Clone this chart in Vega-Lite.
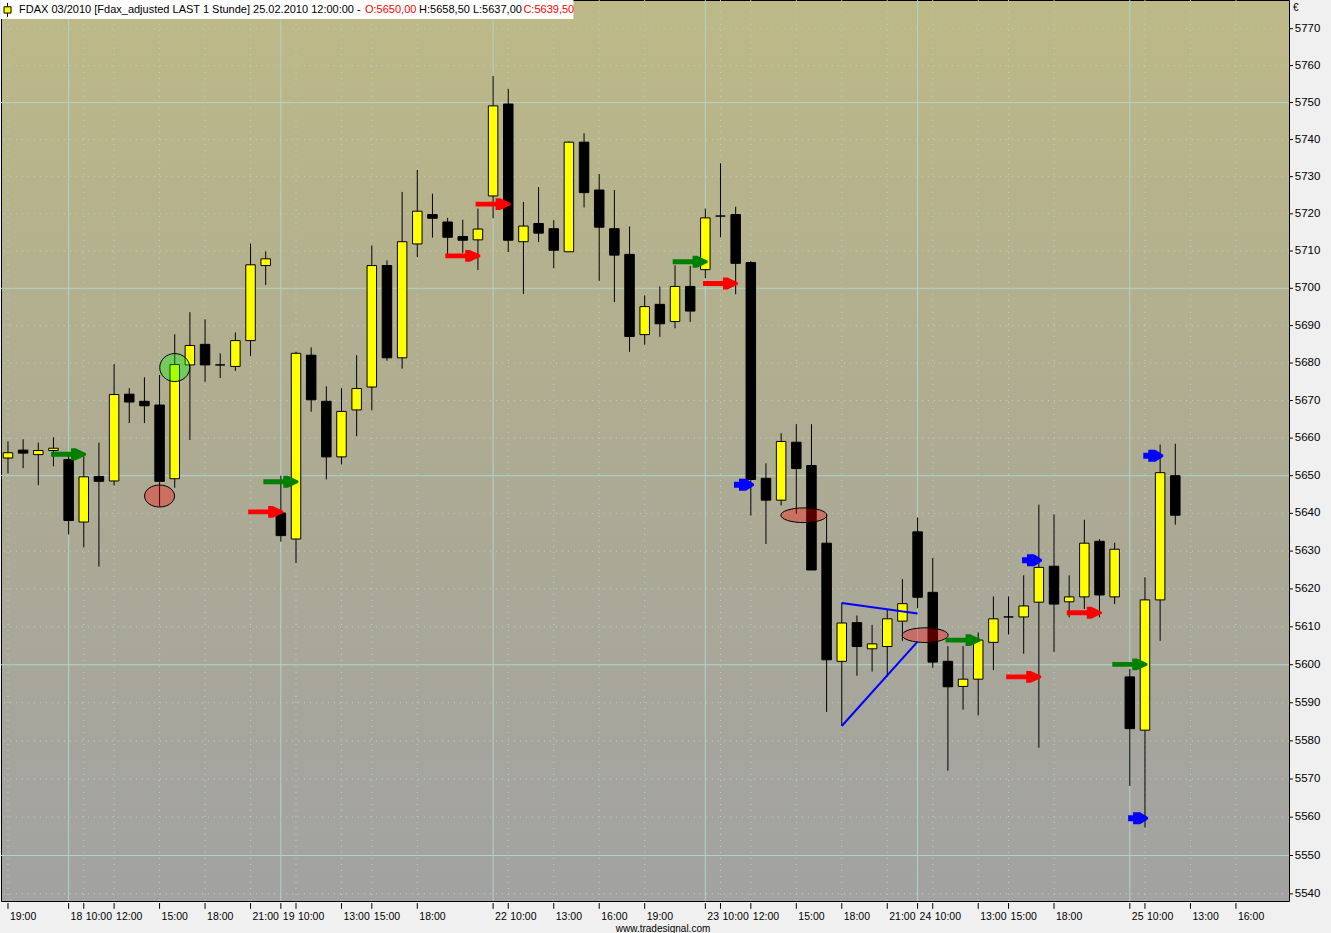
{
  "$schema": "https://vega.github.io/schema/vega-lite/v6.json",
  "width": 1288,
  "height": 901,
  "autosize": {"type": "none"},
  "padding": {"left": 1, "top": 0, "right": 42, "bottom": 32},
  "background": "#F0F0F0",
  "view": {
    "fill": {"gradient": "linear", "x1": 0, "y1": 0, "x2": 0, "y2": 1,
      "stops": [{"offset": 0, "color": "#BDB987"}, {"offset": 0.5, "color": "#AEAB93"}, {"offset": 1, "color": "#A2A2A2"}]},
    "stroke": "#000000",
    "strokeWidth": 1
  },
  "config": {"font": "Liberation Sans"},
  "datasets": {
    "candles": [
      {"i": 0, "t": "2010-02-17 19:00", "o": 5654.7, "h": 5659.1, "l": 5650.6, "c": 5656.1},
      {"i": 1, "t": "2010-02-17 20:00", "o": 5656.8, "h": 5659.7, "l": 5652.0, "c": 5656.0},
      {"i": 2, "t": "2010-02-17 21:00", "o": 5655.6, "h": 5658.8, "l": 5647.5, "c": 5656.7},
      {"i": 3, "t": "2010-02-17 22:00", "o": 5656.7, "h": 5660.2, "l": 5652.5, "c": 5657.3},
      {"i": 4, "t": "2010-02-18 09:00", "o": 5654.3, "h": 5655.5, "l": 5634.4, "c": 5638.1},
      {"i": 5, "t": "2010-02-18 10:00", "o": 5637.7, "h": 5655.2, "l": 5631.0, "c": 5649.7},
      {"i": 6, "t": "2010-02-18 11:00", "o": 5649.8, "h": 5658.8, "l": 5625.9, "c": 5648.5},
      {"i": 7, "t": "2010-02-18 12:00", "o": 5648.6, "h": 5679.7, "l": 5647.4, "c": 5671.6},
      {"i": 8, "t": "2010-02-18 13:00", "o": 5671.7, "h": 5673.3, "l": 5664.0, "c": 5669.6},
      {"i": 9, "t": "2010-02-18 14:00", "o": 5669.8, "h": 5676.2, "l": 5664.0, "c": 5668.6},
      {"i": 10, "t": "2010-02-18 15:00", "o": 5668.8, "h": 5676.8, "l": 5641.9, "c": 5648.5},
      {"i": 11, "t": "2010-02-18 16:00", "o": 5649.2, "h": 5687.7, "l": 5646.8, "c": 5679.6},
      {"i": 12, "t": "2010-02-18 17:00", "o": 5679.5, "h": 5693.6, "l": 5659.5, "c": 5684.7},
      {"i": 13, "t": "2010-02-18 18:00", "o": 5685.0, "h": 5691.7, "l": 5675.0, "c": 5679.5},
      {"i": 14, "t": "2010-02-18 19:00", "o": 5679.5, "h": 5682.6, "l": 5676.0, "c": 5679.5},
      {"i": 15, "t": "2010-02-18 20:00", "o": 5679.1, "h": 5688.2, "l": 5677.9, "c": 5686.0},
      {"i": 16, "t": "2010-02-18 21:00", "o": 5686.0, "h": 5712.0, "l": 5681.9, "c": 5706.3},
      {"i": 17, "t": "2010-02-18 22:00", "o": 5706.1, "h": 5709.9, "l": 5700.9, "c": 5707.9},
      {"i": 18, "t": "2010-02-19 09:00", "o": 5640.1, "h": 5650.0, "l": 5632.5, "c": 5634.1},
      {"i": 19, "t": "2010-02-19 10:00", "o": 5633.2, "h": 5683.0, "l": 5626.9, "c": 5682.6},
      {"i": 20, "t": "2010-02-19 11:00", "o": 5682.1, "h": 5684.2, "l": 5667.0, "c": 5670.2},
      {"i": 21, "t": "2010-02-19 12:00", "o": 5669.8, "h": 5673.8, "l": 5649.0, "c": 5655.0},
      {"i": 22, "t": "2010-02-19 13:00", "o": 5655.0, "h": 5673.3, "l": 5653.0, "c": 5667.1},
      {"i": 23, "t": "2010-02-19 14:00", "o": 5667.5, "h": 5682.1, "l": 5660.5, "c": 5673.2},
      {"i": 24, "t": "2010-02-19 15:00", "o": 5673.6, "h": 5711.5, "l": 5667.4, "c": 5706.1},
      {"i": 25, "t": "2010-02-19 16:00", "o": 5706.1, "h": 5707.5, "l": 5680.6, "c": 5681.4},
      {"i": 26, "t": "2010-02-19 17:00", "o": 5681.4, "h": 5725.9, "l": 5678.5, "c": 5712.5},
      {"i": 27, "t": "2010-02-19 18:00", "o": 5711.9, "h": 5731.8, "l": 5708.4, "c": 5720.7},
      {"i": 28, "t": "2010-02-19 19:00", "o": 5719.8, "h": 5725.4, "l": 5713.6, "c": 5718.8},
      {"i": 29, "t": "2010-02-19 20:00", "o": 5717.8, "h": 5718.9, "l": 5708.5, "c": 5713.7},
      {"i": 30, "t": "2010-02-19 21:00", "o": 5713.9, "h": 5718.4, "l": 5709.5, "c": 5712.9},
      {"i": 31, "t": "2010-02-19 22:00", "o": 5713.0, "h": 5721.4, "l": 5704.9, "c": 5715.9},
      {"i": 32, "t": "2010-02-22 09:00", "o": 5724.8, "h": 5757.2, "l": 5718.8, "c": 5749.1},
      {"i": 33, "t": "2010-02-22 10:00", "o": 5749.6, "h": 5753.7, "l": 5709.7, "c": 5712.9},
      {"i": 34, "t": "2010-02-22 11:00", "o": 5712.5, "h": 5723.2, "l": 5698.5, "c": 5716.7},
      {"i": 35, "t": "2010-02-22 12:00", "o": 5717.4, "h": 5727.2, "l": 5712.4, "c": 5714.8},
      {"i": 36, "t": "2010-02-22 13:00", "o": 5716.0, "h": 5718.3, "l": 5705.4, "c": 5710.2},
      {"i": 37, "t": "2010-02-22 14:00", "o": 5709.8, "h": 5739.5, "l": 5709.8, "c": 5739.3},
      {"i": 38, "t": "2010-02-22 15:00", "o": 5739.3, "h": 5741.7, "l": 5721.7, "c": 5725.7},
      {"i": 39, "t": "2010-02-22 16:00", "o": 5726.4, "h": 5730.7, "l": 5702.0, "c": 5716.4},
      {"i": 40, "t": "2010-02-22 17:00", "o": 5716.0, "h": 5726.4, "l": 5696.3, "c": 5708.9},
      {"i": 41, "t": "2010-02-22 18:00", "o": 5709.1, "h": 5716.6, "l": 5683.0, "c": 5687.1},
      {"i": 42, "t": "2010-02-22 19:00", "o": 5687.6, "h": 5698.1, "l": 5684.9, "c": 5695.1},
      {"i": 43, "t": "2010-02-22 20:00", "o": 5695.7, "h": 5700.5, "l": 5687.0, "c": 5690.5},
      {"i": 44, "t": "2010-02-22 21:00", "o": 5691.1, "h": 5706.2, "l": 5689.3, "c": 5700.5},
      {"i": 45, "t": "2010-02-22 22:00", "o": 5700.5, "h": 5706.0, "l": 5691.0, "c": 5693.9},
      {"i": 46, "t": "2010-02-23 09:00", "o": 5705.0, "h": 5721.4, "l": 5702.7, "c": 5718.9},
      {"i": 47, "t": "2010-02-23 10:00", "o": 5719.4, "h": 5733.6, "l": 5713.7, "c": 5719.4},
      {"i": 48, "t": "2010-02-23 11:00", "o": 5719.8, "h": 5721.9, "l": 5698.4, "c": 5706.7},
      {"i": 49, "t": "2010-02-23 12:00", "o": 5706.9, "h": 5707.3, "l": 5639.4, "c": 5649.0},
      {"i": 50, "t": "2010-02-23 13:00", "o": 5649.3, "h": 5653.3, "l": 5631.9, "c": 5643.5},
      {"i": 51, "t": "2010-02-23 14:00", "o": 5643.5, "h": 5661.3, "l": 5642.1, "c": 5659.1},
      {"i": 52, "t": "2010-02-23 15:00", "o": 5658.9, "h": 5663.7, "l": 5639.9, "c": 5651.9},
      {"i": 53, "t": "2010-02-23 16:00", "o": 5652.7, "h": 5663.7, "l": 5625.0, "c": 5625.0},
      {"i": 54, "t": "2010-02-23 17:00", "o": 5632.1, "h": 5639.7, "l": 5587.6, "c": 5601.3},
      {"i": 55, "t": "2010-02-23 18:00", "o": 5600.9, "h": 5616.3, "l": 5583.9, "c": 5611.0},
      {"i": 56, "t": "2010-02-23 19:00", "o": 5611.1, "h": 5613.0, "l": 5597.1, "c": 5604.8},
      {"i": 57, "t": "2010-02-23 20:00", "o": 5604.2, "h": 5610.5, "l": 5598.2, "c": 5605.5},
      {"i": 58, "t": "2010-02-23 21:00", "o": 5604.8, "h": 5614.5, "l": 5596.9, "c": 5612.1},
      {"i": 59, "t": "2010-02-23 22:00", "o": 5611.5, "h": 5622.6, "l": 5606.3, "c": 5616.1},
      {"i": 60, "t": "2010-02-24 09:00", "o": 5635.1, "h": 5638.9, "l": 5614.9, "c": 5617.8},
      {"i": 61, "t": "2010-02-24 10:00", "o": 5619.1, "h": 5628.2, "l": 5599.2, "c": 5600.7},
      {"i": 62, "t": "2010-02-24 11:00", "o": 5600.9, "h": 5604.9, "l": 5572.2, "c": 5594.2},
      {"i": 63, "t": "2010-02-24 12:00", "o": 5594.3, "h": 5604.9, "l": 5588.2, "c": 5596.2},
      {"i": 64, "t": "2010-02-24 13:00", "o": 5596.2, "h": 5608.5, "l": 5586.7, "c": 5606.5},
      {"i": 65, "t": "2010-02-24 14:00", "o": 5605.9, "h": 5618.0, "l": 5598.6, "c": 5612.1},
      {"i": 66, "t": "2010-02-24 15:00", "o": 5612.6, "h": 5618.0, "l": 5608.0, "c": 5612.6},
      {"i": 67, "t": "2010-02-24 16:00", "o": 5612.6, "h": 5623.6, "l": 5602.9, "c": 5615.5},
      {"i": 68, "t": "2010-02-24 17:00", "o": 5616.5, "h": 5642.3, "l": 5578.2, "c": 5625.7},
      {"i": 69, "t": "2010-02-24 18:00", "o": 5626.0, "h": 5639.7, "l": 5603.4, "c": 5616.0},
      {"i": 70, "t": "2010-02-24 19:00", "o": 5616.6, "h": 5623.6, "l": 5612.5, "c": 5617.9},
      {"i": 71, "t": "2010-02-24 20:00", "o": 5617.9, "h": 5638.3, "l": 5614.7, "c": 5632.1},
      {"i": 72, "t": "2010-02-24 21:00", "o": 5632.6, "h": 5633.2, "l": 5612.5, "c": 5618.4},
      {"i": 73, "t": "2010-02-24 22:00", "o": 5617.9, "h": 5632.2, "l": 5616.0, "c": 5630.5},
      {"i": 74, "t": "2010-02-25 09:00", "o": 5596.8, "h": 5598.9, "l": 5568.2, "c": 5583.2},
      {"i": 75, "t": "2010-02-25 10:00", "o": 5582.8, "h": 5623.1, "l": 5557.3, "c": 5617.1},
      {"i": 76, "t": "2010-02-25 11:00", "o": 5617.1, "h": 5658.3, "l": 5606.3, "c": 5650.8},
      {"i": 77, "t": "2010-02-25 12:00", "o": 5650.0, "h": 5658.5, "l": 5637.0, "c": 5639.5}
    ],
    "levels": [
      {"p": 5540}, {"p": 5550}, {"p": 5560}, {"p": 5570}, {"p": 5580}, {"p": 5590},
      {"p": 5600}, {"p": 5610}, {"p": 5620}, {"p": 5630}, {"p": 5640}, {"p": 5650},
      {"p": 5660}, {"p": 5670}, {"p": 5680}, {"p": 5690}, {"p": 5700}, {"p": 5710},
      {"p": 5720}, {"p": 5730}, {"p": 5740}, {"p": 5750}, {"p": 5760}, {"p": 5770}
    ],
    "ticks": [
      {"i": 0, "label": "19:00"}, {"i": 4, "label": "18"}, {"i": 5, "label": "10:00"}, {"i": 7, "label": "12:00"},
      {"i": 10, "label": "15:00"}, {"i": 13, "label": "18:00"}, {"i": 16, "label": "21:00"}, {"i": 18, "label": "19"},
      {"i": 19, "label": "10:00"}, {"i": 22, "label": "13:00"}, {"i": 24, "label": "15:00"}, {"i": 27, "label": "18:00"},
      {"i": 32, "label": "22"}, {"i": 33, "label": "10:00"}, {"i": 36, "label": "13:00"}, {"i": 39, "label": "16:00"},
      {"i": 42, "label": "19:00"}, {"i": 46, "label": "23"}, {"i": 47, "label": "10:00"}, {"i": 49, "label": "12:00"},
      {"i": 52, "label": "15:00"}, {"i": 55, "label": "18:00"}, {"i": 58, "label": "21:00"}, {"i": 60, "label": "24"},
      {"i": 61, "label": "10:00"}, {"i": 64, "label": "13:00"}, {"i": 66, "label": "15:00"}, {"i": 69, "label": "18:00"},
      {"i": 74, "label": "25"}, {"i": 75, "label": "10:00"}, {"i": 78, "label": "13:00"}, {"i": 81, "label": "16:00"}
    ],
    "arrows": [
      {"i": 4, "p": 5655.7, "kind": "buy"},
      {"i": 17, "p": 5640.4, "kind": "sell"},
      {"i": 18, "p": 5648.4, "kind": "buy"},
      {"i": 30, "p": 5708.7, "kind": "sell"},
      {"i": 32, "p": 5722.6, "kind": "sell"},
      {"i": 45, "p": 5707.1, "kind": "buy"},
      {"i": 47, "p": 5701.3, "kind": "sell"},
      {"i": 63, "p": 5606.5, "kind": "buy"},
      {"i": 67, "p": 5596.8, "kind": "sell"},
      {"i": 71, "p": 5613.7, "kind": "sell"},
      {"i": 74, "p": 5600.1, "kind": "buy"}
    ],
    "stops": [
      {"i": 48, "p": 5647.6},
      {"i": 67, "p": 5627.6},
      {"i": 74, "p": 5559.7},
      {"i": 75, "p": 5655.3}
    ],
    "ellipses": [
      {"i": 10, "p": 5644.6, "form": "wide", "tone": "loss"},
      {"i": 11, "p": 5678.8, "form": "round", "tone": "gain"},
      {"i": 52.5, "p": 5639.5, "form": "flat", "tone": "loss"},
      {"i": 60.5, "p": 5607.8, "form": "flat", "tone": "loss"}
    ],
    "fans": [
      {"i": 55, "p": 5616.3, "i2": 60, "p2": 5613.5},
      {"i": 55, "p": 5583.9, "i2": 60, "p2": 5606.1}
    ]
  },
  "layer": [
    {
      "data": {"name": "levels"},
      "transform": [{"filter": "datum.p % 50 !== 0"}],
      "mark": {"type": "rule", "color": "#B0D4C8", "strokeWidth": 1, "strokeDash": [1, 5]},
      "encoding": {
        "y": {"field": "p", "type": "quantitative", "axis": null,
          "scale": {"type": "log", "domain": [5538.14, 5777.79], "nice": false, "zero": false, "padding": 0}}
      }
    },
    {
      "data": {"name": "levels"},
      "transform": [{"filter": "datum.p % 50 === 0"}],
      "mark": {"type": "rule", "color": "#B0D4C8", "strokeWidth": 1},
      "encoding": {"y": {"field": "p", "type": "quantitative", "axis": null}}
    },
    {
      "data": {"name": "ticks"},
      "transform": [{"filter": "length(datum.label) > 2"}],
      "mark": {"type": "rule", "color": "#B0D4C8", "strokeWidth": 1, "strokeDash": [1, 5]},
      "encoding": {
        "x": {"field": "i", "type": "quantitative", "axis": null,
          "scale": {"domain": [-0.46, 84.5], "nice": false, "zero": false, "padding": 0}}
      }
    },
    {
      "data": {"name": "ticks"},
      "transform": [{"filter": "length(datum.label) <= 2"}],
      "mark": {"type": "rule", "color": "#B0D4C8", "strokeWidth": 1},
      "encoding": {"x": {"field": "i", "type": "quantitative", "axis": null}}
    },
    {
      "data": {"name": "candles"},
      "mark": {"type": "rule", "color": "#000000", "strokeWidth": 1},
      "encoding": {
        "x": {"field": "i", "type": "quantitative", "axis": null},
        "y": {"field": "l", "type": "quantitative", "axis": null},
        "y2": {"field": "h"}
      }
    },
    {
      "data": {"name": "candles"},
      "mark": {"type": "bar", "width": 9.5, "stroke": "#000000", "strokeWidth": 1},
      "encoding": {
        "x": {"field": "i", "type": "quantitative", "axis": null},
        "y": {"field": "o", "type": "quantitative", "axis": null},
        "y2": {"field": "c"},
        "fill": {"condition": {"test": "datum.c >= datum.o", "value": "#FFFF00"}, "value": "#000000"}
      }
    },
    {
      "data": {"name": "ellipses"},
      "mark": {"type": "point", "filled": true, "fillOpacity": 0.34, "stroke": "#000000", "strokeWidth": 1, "strokeOpacity": 1, "size": 2116},
      "encoding": {
        "x": {"field": "i", "type": "quantitative", "axis": null},
        "y": {"field": "p", "type": "quantitative", "axis": null},
        "shape": {"field": "form", "type": "nominal", "legend": null,
          "scale": {"domain": ["wide", "round", "flat"],
            "range": ["M-0.652,0 A0.652,0.478 0 1,0 0.652,0 A0.652,0.478 0 1,0 -0.652,0 Z", "M-0.652,0 A0.652,0.609 0 1,0 0.652,0 A0.652,0.609 0 1,0 -0.652,0 Z", "M-1,0 A1,0.32 0 1,0 1,0 A1,0.32 0 1,0 -1,0 Z"]}},
        "fill": {"field": "tone", "type": "nominal", "legend": null,
          "scale": {"domain": ["loss", "gain"], "range": ["#FF0000", "#00FF00"]}}
      }
    },
    {
      "data": {"name": "fans"},
      "mark": {"type": "rule", "color": "#0000FF", "strokeWidth": 2},
      "encoding": {
        "x": {"field": "i", "type": "quantitative", "axis": null},
        "y": {"field": "p", "type": "quantitative", "axis": null},
        "x2": {"field": "i2"},
        "y2": {"field": "p2"}
      }
    },
    {
      "data": {"name": "arrows"},
      "mark": {"type": "point", "filled": true, "opacity": 1, "size": 1225,
        "shape": "M-1,-0.14 L0.14,-0.14 L0.14,-0.34 L0.4,-0.34 L1,-0.06 L1,0.06 L0.4,0.34 L0.14,0.34 L0.14,0.14 L-1,0.14 Z"},
      "encoding": {
        "x": {"field": "i", "type": "quantitative", "axis": null},
        "y": {"field": "p", "type": "quantitative", "axis": null},
        "color": {"field": "kind", "type": "nominal", "legend": null,
          "scale": {"domain": ["buy", "sell"], "range": ["#008000", "#FF0000"]}}
      }
    },
    {
      "data": {"name": "stops"},
      "mark": {"type": "point", "filled": true, "opacity": 1, "size": 400, "color": "#0000FF", "xOffset": 8.3,
        "shape": "M-1,-0.3 L-0.5,-0.3 L-0.5,-0.6 L0.2,-0.6 L1,-0.1 L1,0.1 L0.2,0.6 L-0.5,0.6 L-0.5,0.3 L-1,0.3 Z"},
      "encoding": {
        "x": {"field": "i", "type": "quantitative", "axis": null},
        "y": {"field": "p", "type": "quantitative", "axis": null}
      }
    },
    {
      "data": {"name": "ticks"},
      "mark": {"type": "rule", "color": "#000000", "strokeWidth": 1},
      "encoding": {
        "x": {"field": "i", "type": "quantitative", "axis": null},
        "y": {"datum": 5537.6, "type": "quantitative", "axis": null},
        "y2": {"datum": 5536.1}
      }
    },
    {
      "data": {"name": "ticks"},
      "mark": {"type": "text", "align": "left", "baseline": "middle", "dx": 2, "font": "Liberation Sans", "fontSize": 10.5, "color": "#000000"},
      "encoding": {
        "x": {"field": "i", "type": "quantitative", "axis": null},
        "y": {"datum": 5534.0, "type": "quantitative", "axis": null},
        "text": {"field": "label"}
      }
    },
    {
      "data": {"name": "levels"},
      "mark": {"type": "rule", "color": "#000000", "strokeWidth": 1},
      "encoding": {
        "x": {"datum": 84.5, "type": "quantitative", "axis": null},
        "x2": {"datum": 84.76},
        "y": {"field": "p", "type": "quantitative", "axis": null}
      }
    },
    {
      "data": {"name": "levels"},
      "mark": {"type": "text", "align": "left", "baseline": "middle", "font": "Liberation Sans", "fontSize": 11.5, "color": "#000000"},
      "encoding": {
        "x": {"datum": 84.88, "type": "quantitative", "axis": null},
        "y": {"field": "p", "type": "quantitative", "axis": null},
        "text": {"field": "p", "type": "quantitative", "format": "d"}
      }
    },
    {
      "data": {"values": [{}]},
      "mark": {"type": "text", "text": "€", "align": "left", "baseline": "middle", "font": "Liberation Sans", "fontSize": 10, "color": "#000000"},
      "encoding": {
        "x": {"datum": 84.76, "type": "quantitative", "axis": null},
        "y": {"datum": 5775.5, "type": "quantitative", "axis": null}
      }
    },
    {
      "data": {"values": [{}]},
      "mark": {"type": "text", "text": "www.tradesignal.com", "align": "center", "baseline": "middle", "font": "Liberation Sans", "fontSize": 10, "color": "#000000"},
      "encoding": {
        "x": {"datum": 43.21, "type": "quantitative", "axis": null},
        "y": {"datum": 5530.9, "type": "quantitative", "axis": null}
      }
    },
    {
      "data": {"values": [{}]},
      "mark": {"type": "rect", "color": "#FFFFFF", "opacity": 1},
      "encoding": {
        "x": {"datum": -0.46, "type": "quantitative", "axis": null},
        "x2": {"datum": 37.3},
        "y": {"datum": 5777.79, "type": "quantitative", "axis": null},
        "y2": {"datum": 5772.63}
      }
    },
    {
      "data": {"values": [{}]},
      "mark": {"type": "point", "filled": true, "fill": "#FFFF00", "stroke": "#000000", "strokeWidth": 1, "opacity": 1, "size": 196,
        "shape": "M0,-1 L0,-0.45 M-0.5,-0.45 L0.5,-0.45 L0.5,0.45 L-0.5,0.45 Z M0,0.45 L0,1"},
      "encoding": {
        "x": {"datum": -0.03, "type": "quantitative", "axis": null},
        "y": {"datum": 5775.1, "type": "quantitative", "axis": null}
      }
    },
    {
      "data": {"values": [{}]},
      "mark": {"type": "text", "text": "FDAX 03/2010 [Fdax_adjusted LAST 1 Stunde] 25.02.2010 12:00:00 -", "align": "left", "baseline": "middle", "font": "Liberation Sans", "fontSize": 11, "color": "#000000"},
      "encoding": {
        "x": {"datum": 0.73, "type": "quantitative", "axis": null},
        "y": {"datum": 5775.1, "type": "quantitative", "axis": null}
      }
    },
    {
      "data": {"values": [{}]},
      "mark": {"type": "text", "text": "O:5650,00", "align": "left", "baseline": "middle", "font": "Liberation Sans", "fontSize": 11, "color": "#FF0000"},
      "encoding": {
        "x": {"datum": 23.55, "type": "quantitative", "axis": null},
        "y": {"datum": 5775.1, "type": "quantitative", "axis": null}
      }
    },
    {
      "data": {"values": [{}]},
      "mark": {"type": "text", "text": "H:5658,50 L:5637,00", "align": "left", "baseline": "middle", "font": "Liberation Sans", "fontSize": 11, "color": "#000000"},
      "encoding": {
        "x": {"datum": 27.12, "type": "quantitative", "axis": null},
        "y": {"datum": 5775.1, "type": "quantitative", "axis": null}
      }
    },
    {
      "data": {"values": [{}]},
      "mark": {"type": "text", "text": "C:5639,50", "align": "left", "baseline": "middle", "font": "Liberation Sans", "fontSize": 11, "color": "#FF0000"},
      "encoding": {
        "x": {"datum": 34.0, "type": "quantitative", "axis": null},
        "y": {"datum": 5775.1, "type": "quantitative", "axis": null}
      }
    }
  ]
}
